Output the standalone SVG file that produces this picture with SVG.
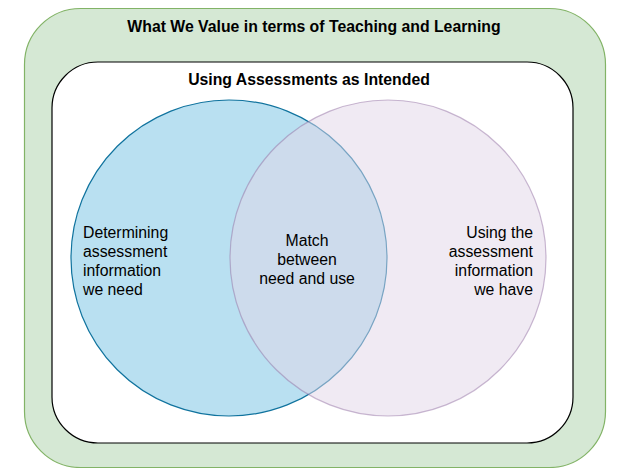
<svg xmlns="http://www.w3.org/2000/svg" width="618" height="468" viewBox="0 0 618 468">
  <style>
    .title { font-family: "Liberation Sans", Arial, sans-serif; font-size: 15.8px; font-weight: bold; fill: #000; text-anchor: middle; }
    .label { font-family: "Liberation Sans", Arial, sans-serif; font-size: 15.8px; fill: #000; }
  </style>
  <rect width="618" height="468" fill="#ffffff"/>
  <g id="values">
    <rect x="24.5" y="8.5" width="581" height="459" rx="56" ry="56" fill="#d5e8d4" stroke="#82b366" stroke-width="1.2"/>
    <text class="title" x="314" y="32">What We Value in terms of Teaching and Learning</text>
  </g>
  <g id="assessments">
    <rect x="52" y="62" width="521" height="381" rx="46" ry="46" fill="#ffffff" stroke="#000000" stroke-width="1.2"/>
    <text class="title" x="309" y="85">Using Assessments as Intended</text>
  </g>
  <g id="need">
    <circle cx="229" cy="258" r="158" fill="#b1ddf0" fill-opacity="0.9" stroke="#10739e" stroke-width="1.2"/>
    <text class="label" x="83" y="238">Determining</text>
    <text class="label" x="83" y="257">assessment</text>
    <text class="label" x="83" y="276">information</text>
    <text class="label" x="83" y="295">we need</text>
  </g>
  <g id="have">
    <circle cx="388" cy="258" r="158" fill="#e1d5e7" fill-opacity="0.5" stroke="#9673a6" stroke-opacity="0.5" stroke-width="1.2"/>
    <text class="label" x="533" y="238" text-anchor="end">Using the</text>
    <text class="label" x="533" y="257" text-anchor="end">assessment</text>
    <text class="label" x="533" y="276" text-anchor="end">information</text>
    <text class="label" x="533" y="295" text-anchor="end">we have</text>
  </g>
  <g id="match">
    <text class="label" x="307" y="246" text-anchor="middle">Match</text>
    <text class="label" x="307" y="265" text-anchor="middle">between</text>
    <text class="label" x="307" y="284" text-anchor="middle">need and use</text>
  </g>
  <g id="connectors"/>
</svg>
